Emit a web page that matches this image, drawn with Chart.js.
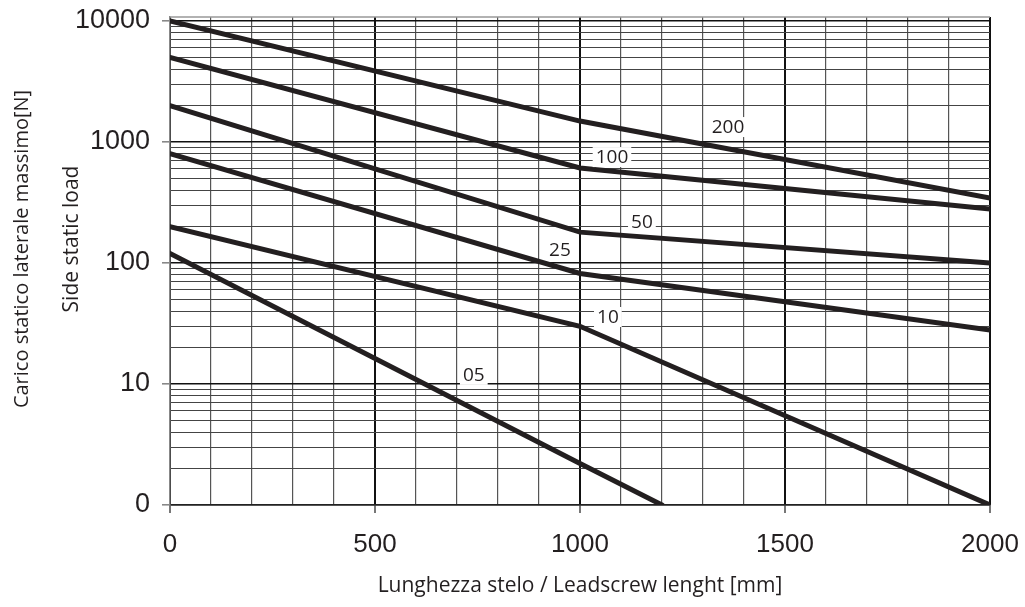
<!DOCTYPE html>
<html>
<head>
<meta charset="utf-8">
<script src="https://cdn.jsdelivr.net/npm/chart.js@4/dist/chart.umd.min.js"></script>
<style>
  html, body { margin: 0; padding: 0; background: #fff; }
  #wrap { width: 1025px; height: 607px; }
</style>
</head>
<body>
<div id="wrap"><canvas id="loadChart"></canvas></div>
<script>
// lunghezza stelo [mm]
var lenAB = [0, 1000, 2000];
var len05 = [0, 1000, 1200];

// carico statico laterale massimo [N], one array per size
var load200 = [10000, 1490, 344];
var load100 = [5000, 610, 280];
var load50 = [2000, 180, 100];
var load25 = [800, 82, 28];
var load10 = [200, 30, 1];
var load05 = [120, 2.2, 1];

// y tick labels (bottom decade is printed as "0" in the original)
var yTickVals = [1, 10, 100, 1000, 10000];
var yTickText = ['0', '10', '100', '1000', '10000'];

// curve labels, placed in data units
var curveNames = ['200', '100', '50', '25', '10', '05'];
var curveLabelX = [1361, 1078, 1151, 951, 1068, 741];
var curveLabelY = [1330, 751, 222, 128, 35.8, 11.9];

var yTitle1 = 'Carico statico laterale massimo[N]';
var yTitle2 = 'Side static load';

var ink = '#231f20';

function pts(xs, ys) {
    return xs.map(function(x, i) { return { x: x, y: ys[i] }; });
}

function serie(name, xs, ys) {
    return {
        label: name,
        data: pts(xs, ys),
        borderColor: ink,
        borderWidth: 5,
        borderCapStyle: 'round',
        pointRadius: 0,
        fill: false,
        tension: 0
    };
}

function isMajorY(c) {
    return c.tick && yTickVals.indexOf(c.tick.value) >= 0;
}

// labels on the curves with white box behind them, top frame line, y titles
var extras = {
    id: 'extras',
    afterDatasetsDraw: function(chart) {
        var c = chart.ctx, xs = chart.scales.x, ys = chart.scales.y;
        var a = chart.chartArea;
        c.save();
        c.strokeStyle = '#999';
        c.lineWidth = 1.5;
        c.beginPath();
        c.moveTo(a.left, a.top);
        c.lineTo(a.right, a.top);
        c.stroke();

        c.font = '19px "Open Sans", sans-serif';
        c.textAlign = 'center';
        c.textBaseline = 'middle';
        curveNames.forEach(function(t, i) {
            var px = xs.getPixelForValue(curveLabelX[i]);
            var py = ys.getPixelForValue(curveLabelY[i]);
            var w = c.measureText(t).width;
            c.fillStyle = '#fff';
            c.fillRect(px - w / 2 - 3, py - 10, w + 6, 20);
            c.fillStyle = ink;
            c.fillText(t, px, py + 1);
        });

        // two stacked vertical titles
        c.fillStyle = ink;
        c.save();
        c.translate(22, 249);
        c.rotate(-Math.PI / 2);
        c.font = '20px "Open Sans", sans-serif';
        c.fillText(yTitle1, 0, 0);
        c.restore();
        c.save();
        c.translate(72, 239);
        c.rotate(-Math.PI / 2);
        c.font = '21px "Open Sans", sans-serif';
        c.fillText(yTitle2, 0, 0);
        c.restore();
        c.restore();
    }
};

var ctx = document.getElementById('loadChart').getContext('2d');
new Chart(ctx, {
    type: 'line',
    data: {
        datasets: [
            serie('200', lenAB, load200),
            serie('100', lenAB, load100),
            serie('50', lenAB, load50),
            serie('25', lenAB, load25),
            serie('10', lenAB, load10),
            serie('05', len05, load05)
        ]
    },
    options: {
        responsive: true,
        maintainAspectRatio: false,
        animation: false,
        layout: { padding: { top: 17, right: 35, bottom: 0, left: 0 } },
        plugins: {
            legend: { display: false },
            tooltip: { enabled: false }
        },
        scales: {
            x: {
                type: 'linear',
                min: 0,
                max: 2000,
                afterFit: function(s) {
                    s.height = 102;
                    s.paddingLeft = 0;
                    s.paddingRight = 0;
                },
                ticks: {
                    stepSize: 100,
                    autoSkip: false,
                    maxRotation: 0,
                    padding: 16,
                    color: ink,
                    font: { family: '"Liberation Sans", Arial, sans-serif', size: 26 },
                    callback: function(value) {
                        return value % 500 === 0 ? String(value) : '';
                    }
                },
                grid: {
                    color: function(c) {
                        return c.tick && c.tick.value % 500 === 0 ? '#111' : '#555';
                    },
                    lineWidth: function(c) {
                        return c.tick && c.tick.value % 500 === 0 ? 2 : 1.2;
                    },
                    tickColor: function(c) {
                        return c.tick && c.tick.value % 500 === 0 ? '#777' : 'transparent';
                    },
                    tickLength: 8
                },
                border: { color: '#222', width: 1.5 },
                title: {
                    display: true,
                    text: 'Lunghezza stelo / Leadscrew lenght [mm]',
                    color: ink,
                    font: { family: '"Open Sans", sans-serif', size: 21 },
                    padding: { top: 0, bottom: 8 }
                }
            },
            y: {
                type: 'logarithmic',
                min: 1,
                max: 10800,
                afterFit: function(s) {
                    s.width = 170;
                    s.paddingTop = 0;
                    s.paddingBottom = 0;
                },
                afterBuildTicks: function(axis) {
                    var t = [];
                    for (var d = 0; d < 4; d++) {
                        for (var m = 1; m < 10; m++) {
                            t.push({ value: m * Math.pow(10, d) });
                        }
                    }
                    t.push({ value: 10000 });
                    axis.ticks = t;
                },
                ticks: {
                    autoSkip: false,
                    padding: 12,
                    color: ink,
                    font: { family: '"Liberation Sans", Arial, sans-serif', size: 27 },
                    callback: function(value) {
                        var i = yTickVals.indexOf(value);
                        return i >= 0 ? yTickText[i] : '';
                    }
                },
                grid: {
                    color: function(c) { return isMajorY(c) ? '#111' : '#444'; },
                    lineWidth: function(c) { return isMajorY(c) ? 1.6 : 1; },
                    tickColor: function(c) { return isMajorY(c) ? '#888' : 'transparent'; },
                    tickLength: 8
                },
                border: { color: '#888', width: 1.5 },
                title: { display: false }
            }
        }
    },
    plugins: [extras]
});
</script>
</body>
</html>
